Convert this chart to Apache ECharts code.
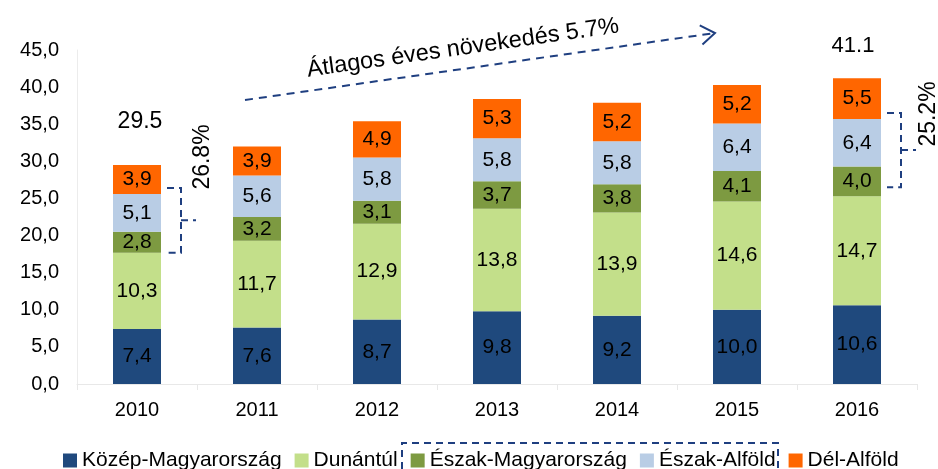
<!DOCTYPE html>
<html>
<head>
<meta charset="utf-8">
<script src="https://cdn.jsdelivr.net/npm/echarts@6/dist/echarts.min.js"></script>
<style>
  html, body { margin: 0; padding: 0; background: #fff; }
  #chart { width: 938px; height: 469px; }
</style>
</head>
<body>
<div id="chart"></div>
<script>
var years = ["2010", "2011", "2012", "2013", "2014", "2015", "2016"];
var seriesNames = ["Közép-Magyarország", "Dunántúl", "Észak-Magyarország", "Észak-Alföld", "Dél-Alföld"];
var kozep = [7.4, 7.6, 8.7, 9.8, 9.2, 10.0, 10.6];
var dunantul = [10.3, 11.7, 12.9, 13.8, 13.9, 14.6, 14.7];
var eszakMagyar = [2.8, 3.2, 3.1, 3.7, 3.8, 4.1, 4.0];
var eszakAlfold = [5.1, 5.6, 5.8, 5.8, 5.8, 6.4, 6.4];
var delAlfold = [3.9, 3.9, 4.9, 5.3, 5.2, 5.2, 5.5];
var colors = ["#1f497d", "#c3df8a", "#7d9a41", "#b9cde5", "#ff6600"];
var yTicks = [0, 5, 10, 15, 20, 25, 30, 35, 40, 45];
var totalLabels = ["29.5", "41.1"];
var shareLabels = ["26.8%", "25.2%"];
var growthLabel = "Átlagos éves növekedés 5.7%";

var FONT = "Liberation Sans";
var DASH = "#1f3f80";

var chart = echarts.init(document.getElementById("chart"), null, { renderer: "canvas" });

function fmt(v) {
  return v.toFixed(1).replace(".", ",");
}

var allData = [kozep, dunantul, eszakMagyar, eszakAlfold, delAlfold];
var series = allData.map(function (d, i) {
  return {
    name: seriesNames[i],
    type: "bar",
    stack: "total",
    barWidth: 48,
    data: d,
    itemStyle: { color: colors[i] },
    label: {
      show: true,
      position: "inside",
      color: "#000",
      fontFamily: FONT,
      fontSize: 21,
      formatter: function (p) { return fmt(p.value); },
    },
  };
});

var option = {
  animation: false,
  color: colors,
  grid: { left: 77, right: 21, top: 50, bottom: 85 },
  legend: {
    left: 58,
    top: 445,
    itemWidth: 14,
    itemHeight: 14,
    itemGap: 13,
    icon: "rect",
    textStyle: { fontFamily: FONT, fontSize: 21, color: "#000" },
    data: seriesNames,
  },
  xAxis: {
    type: "category",
    data: years,
    axisLine: { lineStyle: { color: "#e8e8e8" } },
    axisTick: { show: true, lineStyle: { color: "#e8e8e8" }, length: 6 },
    axisLabel: { color: "#000", fontFamily: FONT, fontSize: 20, margin: 16 },
  },
  yAxis: {
    type: "value",
    min: yTicks[0],
    max: yTicks[yTicks.length - 1],
    interval: 5,
    splitLine: { show: false },
    axisLine: { show: true, lineStyle: { color: "#ececec" } },
    axisTick: { show: false },
    axisLabel: {
      color: "#000",
      fontFamily: FONT,
      fontSize: 20,
      margin: 18,
      formatter: function (v) { return fmt(v); },
    },
  },
  series: series,
};

chart.setOption(option);

function stackTop(idx, upto) {
  var s = 0;
  for (var i = 0; i <= upto; i++) s += allData[i][idx];
  return s;
}

function px(idx, v) {
  return chart.convertToPixel({ gridIndex: 0 }, [idx, v]);
}

function bracket(idx, topOff, botOff) {
  var c = px(idx, 0);
  var right = c[0] + 24;
  var top = px(idx, stackTop(idx, 3))[1] + topOff;
  var bot = px(idx, stackTop(idx, 1))[1] + botOff;
  var mid = (top + bot) / 2;
  var vx = right + 20;
  var style = { stroke: DASH, lineWidth: 2, lineDash: [7, 5], fill: null };
  return [
    { type: "polyline", shape: { points: [[right + 6, top], [vx, top], [vx, bot], [right + 6, bot]] }, style: style },
    { type: "polyline", shape: { points: [[vx, mid], [vx + 15, mid]] }, style: style },
  ];
}

function buildGraphics() {
  var g = [];
  var first = px(0, stackTop(0, 4));
  var last = px(6, stackTop(6, 4));
  g.push({ type: "text", x: first[0] + 3, y: first[1] - 43, style: { text: totalLabels[0], font: "23px " + FONT, fill: "#000", textAlign: "center", textVerticalAlign: "middle" } });
  g.push({ type: "text", x: last[0] - 4, y: last[1] - 32, style: { text: totalLabels[1], font: "22px " + FONT, fill: "#000", textAlign: "center", textVerticalAlign: "middle" } });

  g = g.concat(bracket(0, -6, 0));
  g = g.concat(bracket(6, -6, -9));

  g.push({ type: "text", x: 203, y: 157, rotation: Math.PI / 2, style: { text: shareLabels[0], font: "23px " + FONT, fill: "#000", textAlign: "center", textVerticalAlign: "middle" } });
  g.push({ type: "text", x: 929, y: 114, rotation: Math.PI / 2, style: { text: shareLabels[1], font: "23px " + FONT, fill: "#000", textAlign: "center", textVerticalAlign: "middle" } });

  // growth arrow
  var x1 = 245, y1 = 100, x2 = 715, y2 = 33;
  var ang = Math.atan2(y2 - y1, x2 - x1);
  var arm = 17;
  g.push({ type: "polyline", shape: { points: [[x1, y1], [x2, y2]] }, style: { stroke: DASH, lineWidth: 2, lineDash: [8, 6], fill: null } });
  g.push({ type: "polyline", shape: { points: [
    [x2 - arm * Math.cos(ang - 0.6), y2 - arm * Math.sin(ang - 0.6)],
    [x2, y2],
    [x2 - arm * Math.cos(ang + 0.6), y2 - arm * Math.sin(ang + 0.6)],
  ] }, style: { stroke: DASH, lineWidth: 2, fill: null } });
  g.push({ type: "text", x: 463, y: 48, rotation: -ang, style: { text: growthLabel, font: "23.5px " + FONT, fill: "#000", textAlign: "center", textVerticalAlign: "middle" } });

  // dashed frame around the two northern regions in the legend
  g.push({ type: "polyline", shape: { points: [[402, 469], [402, 443], [778, 443], [778, 469]] }, style: { stroke: DASH, lineWidth: 2, lineDash: [7, 5], fill: null } });
  return g;
}

chart.setOption({ graphic: buildGraphics() });
</script>
</body>
</html>
